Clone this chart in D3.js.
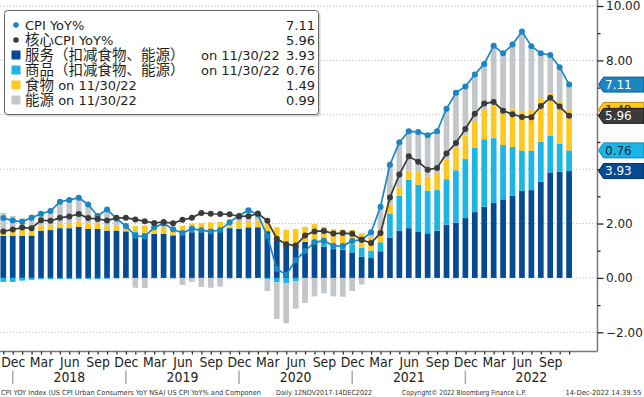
<!DOCTYPE html>
<html>
<head>
<meta charset="utf-8">
<script src="https://d3js.org/d3.v7.min.js"></script>
<style>
body { margin: 0; background: #fff; }
svg { display: block; font-family: "DejaVu Sans", "Noto Sans CJK SC", sans-serif; }
</style>
</head>
<body>
<svg width="644" height="397"></svg>
<script>
// month-end observations, Nov 2017 .. Nov 2022
var months = ["Nov17","Dec17",
  "Jan18","Feb18","Mar18","Apr18","May18","Jun18","Jul18","Aug18","Sep18","Oct18","Nov18","Dec18",
  "Jan19","Feb19","Mar19","Apr19","May19","Jun19","Jul19","Aug19","Sep19","Oct19","Nov19","Dec19",
  "Jan20","Feb20","Mar20","Apr20","May20","Jun20","Jul20","Aug20","Sep20","Oct20","Nov20","Dec20",
  "Jan21","Feb21","Mar21","Apr21","May21","Jun21","Jul21","Aug21","Sep21","Oct21","Nov21","Dec21",
  "Jan22","Feb22","Mar22","Apr22","May22","Jun22","Jul22","Aug22","Sep22","Oct22","Nov22"];

var cpi = [2.20,2.11,
  2.07,2.21,2.36,2.46,2.80,2.87,2.95,2.70,2.28,2.52,2.18,1.91,
  1.55,1.52,1.86,2.00,1.79,1.65,1.81,1.75,1.71,1.76,2.05,2.29,
  2.49,2.33,1.54,0.33,0.12,0.65,0.99,1.31,1.37,1.18,1.17,1.36,
  1.40,1.68,2.62,4.16,4.99,5.39,5.37,5.25,5.39,6.22,6.81,7.04,
  7.48,7.87,8.54,8.26,8.58,9.06,8.52,8.26,8.20,7.75,7.11];

var core = [1.71,1.78,
  1.85,1.83,2.12,2.10,2.21,2.26,2.35,2.20,2.17,2.11,2.21,2.21,
  2.15,2.08,2.02,2.06,2.01,2.14,2.21,2.39,2.36,2.35,2.34,2.26,
  2.27,2.37,2.10,1.44,1.24,1.19,1.56,1.71,1.73,1.63,1.65,1.62,
  1.40,1.28,1.65,2.96,3.80,4.47,4.27,3.98,4.04,4.58,4.96,5.48,
  6.04,6.41,6.47,6.15,6.02,5.92,5.91,6.32,6.63,6.30,5.96];

// contributions (pct pts)
var services = [1.55,1.55,
  1.55,1.56,1.74,1.76,1.83,1.83,1.88,1.80,1.80,1.74,1.74,1.71,
  1.64,1.61,1.62,1.62,1.55,1.60,1.68,1.70,1.75,1.74,1.83,1.80,
  1.86,1.86,1.72,1.38,1.22,1.18,1.32,1.30,1.15,1.06,1.03,0.94,
  0.78,0.73,0.98,1.47,1.74,1.83,1.69,1.64,1.74,1.96,2.03,2.20,
  2.42,2.62,2.76,2.89,3.03,3.20,3.23,3.54,3.88,3.90,3.93];

var goods = [-0.15,-0.15,
  -0.10,-0.07,-0.05,-0.05,-0.04,-0.04,-0.04,-0.04,-0.05,-0.03,-0.02,0.01,
  0.05,0.05,0.00,0.01,0.04,0.06,0.07,0.08,0.05,0.04,0.02,0.02,
  -0.02,0.02,-0.05,-0.16,-0.20,-0.13,-0.02,0.12,0.20,0.20,0.24,0.30,
  0.34,0.28,0.33,0.90,1.28,1.78,1.74,1.57,1.49,1.67,1.93,2.17,
  2.37,2.48,2.38,2.00,1.79,1.47,1.44,1.47,1.34,1.04,0.76];

var food = [0.19,0.21,
  0.23,0.19,0.18,0.19,0.16,0.19,0.19,0.19,0.19,0.16,0.19,0.22,
  0.22,0.27,0.28,0.26,0.27,0.26,0.24,0.23,0.24,0.28,0.27,0.24,
  0.24,0.24,0.26,0.48,0.55,0.62,0.56,0.56,0.53,0.53,0.51,0.53,
  0.52,0.49,0.48,0.33,0.30,0.33,0.47,0.51,0.63,0.73,0.84,0.87,
  0.98,1.11,1.23,1.32,1.41,1.46,1.53,1.60,1.57,1.53,1.49];

var energy = [0.65,0.52,
  0.41,0.58,0.53,0.59,0.88,0.90,0.91,0.77,0.36,0.67,0.23,-0.02,
  -0.36,-0.37,-0.03,0.13,-0.05,-0.26,-0.15,-0.33,-0.36,-0.32,-0.05,0.26,
  0.47,0.21,-0.43,-1.35,-1.47,-1.00,-0.90,-0.68,-0.57,-0.68,-0.69,-0.48,
  -0.24,0.16,0.85,1.46,1.67,1.50,1.50,1.58,1.57,1.90,2.08,1.85,
  1.78,1.72,2.20,2.10,2.40,2.93,2.32,1.66,1.41,1.25,0.99];

var tickMonths = ["Dec","Mar","Jun","Sep"];
var years = ["2018","2019","2020","2021","2022"];
var yTicks = [-2,-1,0,1,2,3,4,5,6,7,8,9,10];

var colors = {cpi:"#1a87c4", core:"#3b3b3b", services:"#064b92", goods:"#1db5e5", food:"#fec820", energy:"#c3c7ca"};

var svg = d3.select("svg");
var plotRight = 597.5, plotBottom = 351.5;
var fmt = d3.format(".2f");

var x = d3.scalePoint().domain(months).range([3.3, 569.1]);
var y = d3.scaleLinear().domain([-2, 10]).range([332.3, 6]);
var bw = 5.7;

// gridlines
svg.append("g").selectAll("line")
  .data(yTicks.filter(function(t){ return t % 2 == 0; }))
  .enter().append("line")
  .attr("x1", 0).attr("x2", plotRight)
  .attr("y1", function(d){ return y(d); }).attr("y2", function(d){ return y(d); })
  .attr("stroke", "#b9bcc6").attr("stroke-width", 1).attr("stroke-dasharray", "1.2,2");

// stacked bars
var keys = ["services","goods","food","energy"];
var table = months.map(function(m, i){
  return {month:m, services:services[i], goods:goods[i], food:food[i], energy:energy[i]};
});
var series = d3.stack().keys(keys).offset(d3.stackOffsetDiverging)(table);

svg.append("g").selectAll("g")
  .data(series).enter().append("g")
  .attr("fill", function(s){ return colors[s.key]; })
  .selectAll("rect")
  .data(function(s){ return s; })
  .enter().append("rect")
  .attr("x", function(d){ return x(d.data.month) - bw/2; })
  .attr("width", bw)
  .attr("y", function(d){ return y(Math.max(d[0], d[1])); })
  .attr("height", function(d){ return Math.abs(y(d[0]) - y(d[1])); });

// lines with markers
function drawLine(vals, color) {
  var line = d3.line()
    .x(function(d, i){ return x(months[i]); })
    .y(function(d){ return y(d); });
  svg.append("path").datum(vals)
    .attr("d", line).attr("fill", "none")
    .attr("stroke", color).attr("stroke-width", 1.7);
  svg.append("g").selectAll("circle")
    .data(vals).enter().append("circle")
    .attr("cx", function(d, i){ return x(months[i]); })
    .attr("cy", function(d){ return y(d); })
    .attr("r", 3).attr("fill", color);
}
drawLine(cpi, colors.cpi);
drawLine(core, colors.core);

// frame: bottom + right
svg.append("line").attr("x1", 0).attr("x2", plotRight).attr("y1", plotBottom).attr("y2", plotBottom)
  .attr("stroke", "#7a7a7a").attr("stroke-width", 1.5);
svg.append("line").attr("x1", plotRight).attr("x2", plotRight).attr("y1", 0).attr("y2", plotBottom)
  .attr("stroke", "#7a7a7a").attr("stroke-width", 1.5);

// last-value tags (defined here so axis labels hidden under them can be skipped)
var last = months.length - 1;
var tags = [
  {v:food[last], at:series[2][last][1], fill:colors.food, stroke:"#b58d00", text:"#222"},
  {v:cpi[last], at:cpi[last], fill:colors.cpi, stroke:"#0d5f8e", text:"#fff"},
  {v:core[last], at:core[last], fill:colors.core, stroke:"#1a1a1a", text:"#fff"},
  {v:goods[last], at:series[1][last][1], fill:colors.goods, stroke:"#0d8bb5", text:"#10243a"},
  {v:services[last], at:services[last], fill:colors.services, stroke:"#02305e", text:"#fff"}
];
function underTag(t) {
  return tags.some(function(d){ return Math.abs(y(d.at) - y(t)) < 9; });
}

// right axis: minor ticks on odd, labels on even
var yMinor = svg.append("g").attr("transform", "translate(" + plotRight + ",0)")
  .call(d3.axisRight(y).tickValues(yTicks.filter(function(t){ return t % 2 != 0; })).tickSize(3).tickFormat(""));
var yMajor = svg.append("g").attr("transform", "translate(" + plotRight + ",0)")
  .call(d3.axisRight(y).tickValues(yTicks.filter(function(t){ return t % 2 == 0; }))
    .tickSize(6).tickPadding(2.5)
    .tickFormat(function(t){ return underTag(t) ? "" : fmt(t); }));
[yMinor, yMajor].forEach(function(g){
  g.select(".domain").remove();
  g.selectAll("line").attr("stroke", "#222").attr("stroke-width", 1.3);
});
yMajor.selectAll("text").attr("font-family", "DejaVu Sans").attr("font-size", 12).attr("fill", "#222");

// bottom axis: month ticks
var xAxis = svg.append("g").attr("transform", "translate(0," + plotBottom + ")")
  .call(d3.axisBottom(x).tickSize(3).tickPadding(2).tickFormat(function(m){
    var mm = m.slice(0, 3);
    return tickMonths.indexOf(mm) >= 0 ? mm : "";
  }));
xAxis.select(".domain").remove();
xAxis.selectAll("line").attr("stroke", "#222").attr("stroke-width", 1.2);
xAxis.selectAll("text").attr("font-family", "DejaVu Sans").attr("font-size", 14.5)
  .attr("fill", "#222").attr("transform", "scale(0.86,1)");

// year separators and labels
var decs = months.filter(function(m){ return m.slice(0,3) == "Dec"; });
svg.append("g").selectAll("line")
  .data(decs).enter().append("line")
  .attr("x1", function(d){ return x(d); }).attr("x2", function(d){ return x(d); })
  .attr("y1", 370.5).attr("y2", 384)
  .attr("stroke", "#aaa").attr("stroke-width", 1.5);
svg.append("g").selectAll("text")
  .data(years).enter().append("text")
  .attr("transform", function(d, i){
    var x0 = x(decs[i]), x1 = i + 1 < decs.length ? x(decs[i+1]) : plotRight;
    return "translate(" + (x0 + x1) / 2 + ",382.3) scale(0.86,1)";
  })
  .attr("text-anchor", "middle").attr("font-size", 14.5).attr("fill", "#222")
  .text(function(d){ return d; });

// legend
var leg = svg.append("g");
leg.append("rect").attr("x", 6.5).attr("y", 12.5).attr("width", 314).attr("height", 104)
  .attr("rx", 3).attr("fill", "#d4d4d4");
leg.append("rect").attr("x", 4.5).attr("y", 10.5).attr("width", 314).attr("height", 104)
  .attr("rx", 3).attr("fill", "#fff").attr("stroke", "#666");

var legendItems = [
  {label:"CPI YoY%", tail:"", value:cpi[last], color:colors.cpi, type:"dot"},
  {label:"核心CPI YoY%", tail:"", value:core[last], color:colors.core, type:"dot"},
  {label:"服务（扣减食物、能源）", tail:"on 11/30/22", value:services[last], color:colors.services, type:"box"},
  {label:"商品（扣减食物、能源）", tail:"on 11/30/22", value:goods[last], color:colors.goods, type:"box"},
  {label:"食物 on 11/30/22", tail:"", value:food[last], color:colors.food, type:"box"},
  {label:"能源 on 11/30/22", tail:"", value:energy[last], color:colors.energy, type:"box"}
];

function addRuns(txt, str) {
  str.split(/([^\x00-\x7f]+)/).forEach(function(part){
    if (!part) return;
    var cjk = /[^\x00-\x7f]/.test(part);
    txt.append("tspan")
      .attr("font-family", cjk ? "Noto Sans CJK SC" : "DejaVu Sans")
      .attr("font-size", cjk ? 14.5 : 13)
      .text(part);
  });
}

legendItems.forEach(function(d, i){
  var cy = 25 + i * 15;
  if (d.type == "dot") {
    leg.append("circle").attr("cx", 16).attr("cy", cy).attr("r", 2.8).attr("fill", d.color);
  } else {
    leg.append("rect").attr("x", 11.5).attr("y", cy - 4.5).attr("width", 9).attr("height", 9).attr("fill", d.color);
  }
  var t = leg.append("text").attr("x", 25).attr("y", cy + 4.6).attr("fill", "#1e1e1e");
  addRuns(t, d.label);
  if (d.tail) {
    leg.append("text").attr("x", 201).attr("y", cy + 4.6).attr("font-size", 13).attr("fill", "#1e1e1e").text(d.tail);
  }
  leg.append("text").attr("x", 315).attr("y", cy + 4.6).attr("text-anchor", "end")
    .attr("font-size", 13).attr("fill", "#1e1e1e").text(fmt(d.value));
});

// draw tags on right axis
var tg = svg.append("g").selectAll("g").data(tags).enter().append("g")
  .attr("transform", function(d){ return "translate(0," + y(d.at) + ")"; });
tg.append("path")
  .attr("d", "M598.5,0 L603.5,-7.5 L644,-7.5 L644,7.5 L603.5,7.5 Z")
  .attr("fill", function(d){ return d.fill; })
  .attr("stroke", function(d){ return d.stroke; }).attr("stroke-width", 1);
tg.append("text").attr("x", 605).attr("y", 4.4)
  .attr("font-size", 12).attr("fill", function(d){ return d.text; })
  .text(function(d){ return fmt(d.v); });

// footer
var footer = [
  {t:"CPI YOY Index (US CPI Urban Consumers YoY NSA) US CPI YoY% and Componen", x:1, w:260},
  {t:"Daily 12NOV2017-14DEC2022", x:276, w:96},
  {t:"Copyright© 2022 Bloomberg Finance L.P.", x:402, w:124},
  {t:"14-Dec-2022 14:39:55", x:565.5, w:76}
];
svg.append("g").selectAll("text").data(footer).enter().append("text")
  .attr("x", function(d){ return d.x; }).attr("y", 395)
  .attr("font-size", 7).attr("fill", "#333")
  .attr("textLength", function(d){ return d.w; }).attr("lengthAdjust", "spacingAndGlyphs")
  .text(function(d){ return d.t; });
</script>
</body>
</html>
